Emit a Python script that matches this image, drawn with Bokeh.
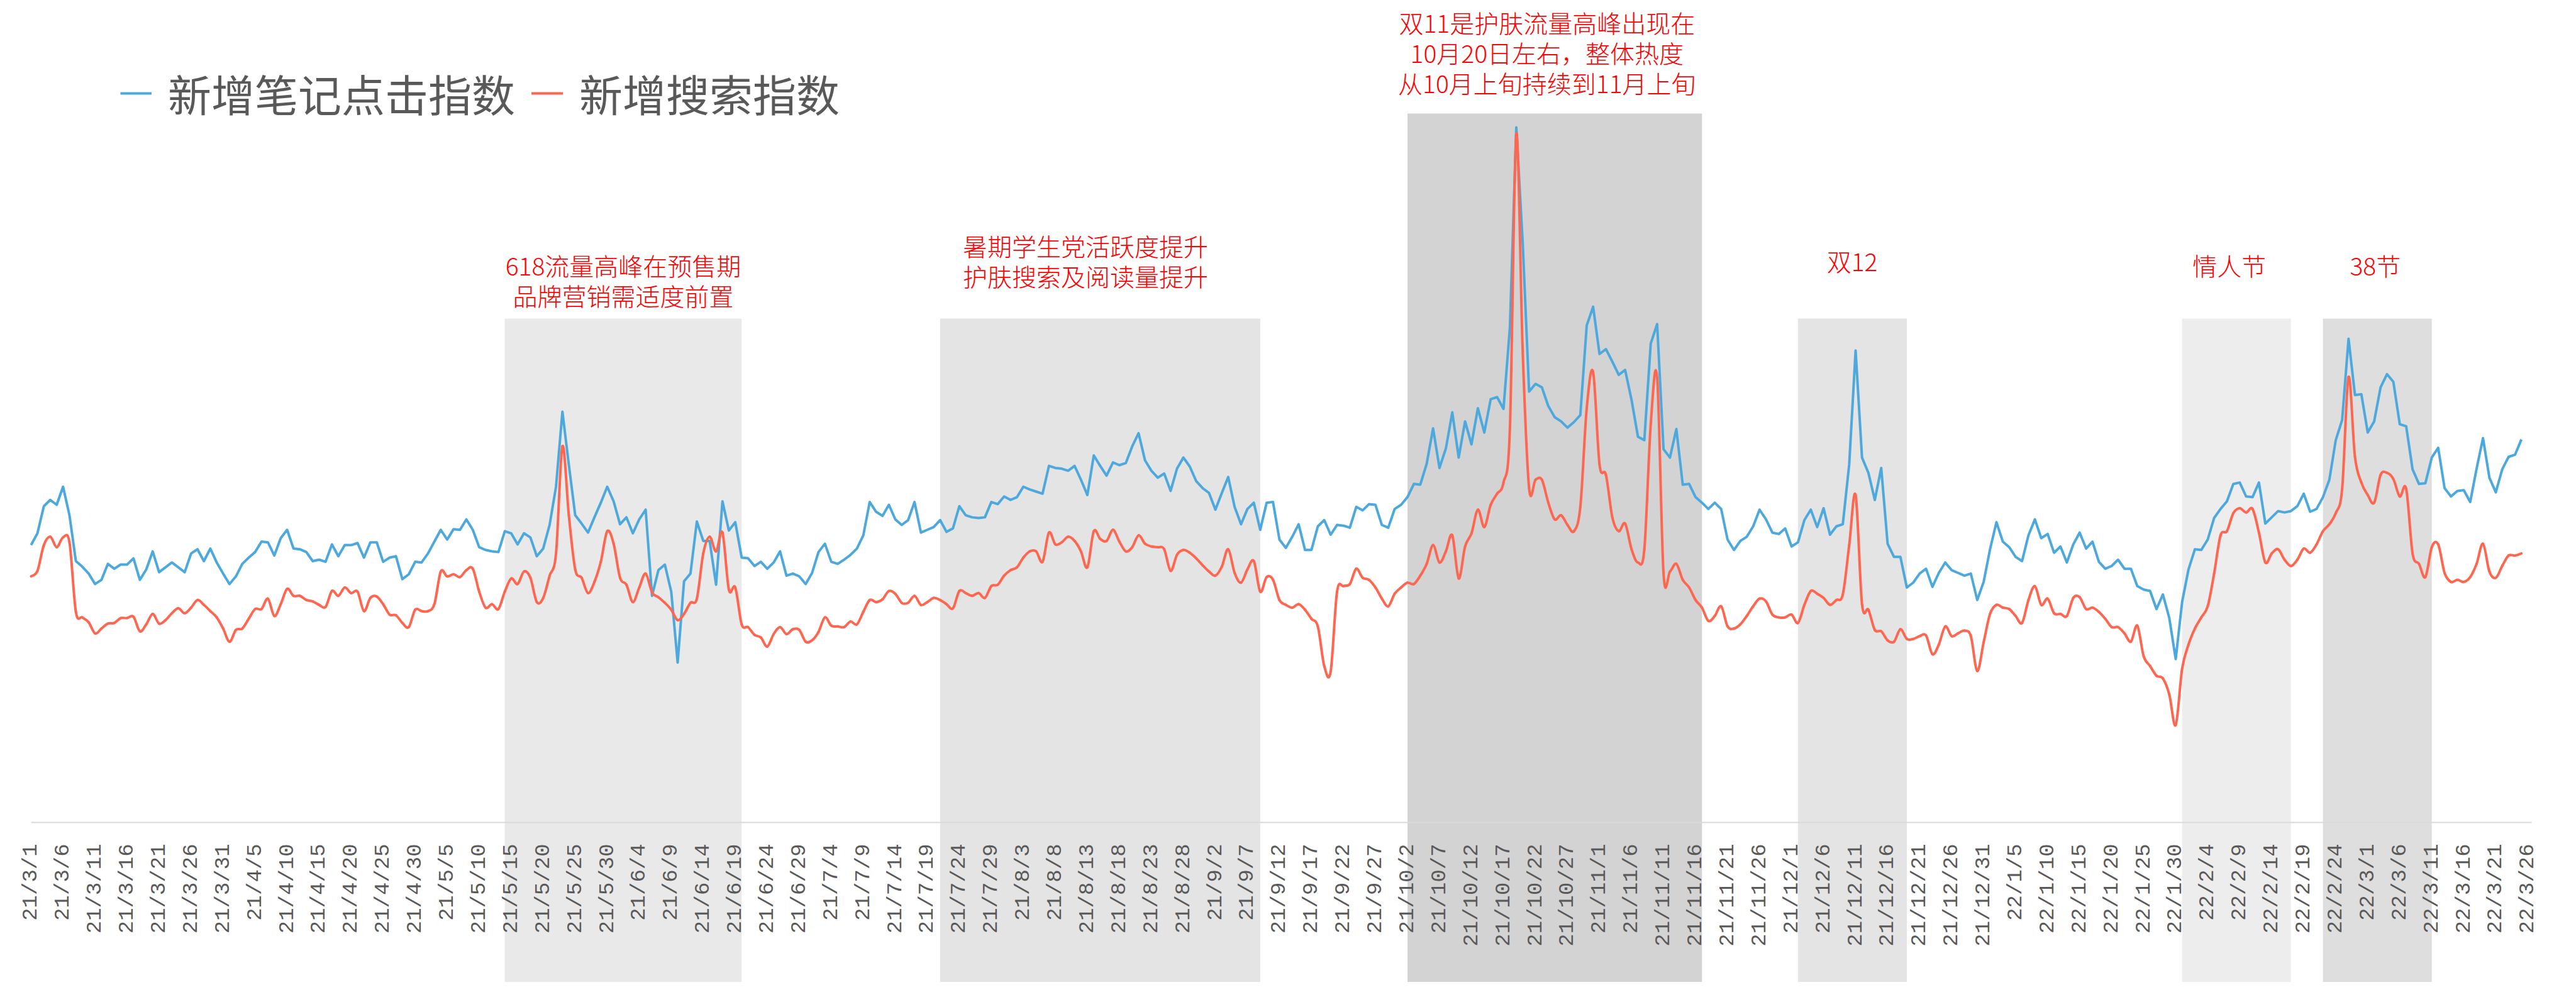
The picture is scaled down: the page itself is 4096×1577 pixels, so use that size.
import math
import numpy as np
import pandas as pd
from bokeh.plotting import figure
from bokeh.models import Range1d, FixedTicker, ColumnDataSource, Legend, LegendItem
from bokeh.core.properties import value
from bokeh.embed import file_html
from bokeh.resources import INLINE

# ---------------- data ----------------
start_date = "2021-03-01"
series_names = ["新增笔记点击指数", "新增搜索指数"]

note_click_index = [
    39.9, 41.6, 45.5, 46.4, 45.7, 48.3, 44.2, 37.6, 36.8, 35.8,
    34.3, 34.9, 37.2, 36.5, 37.1, 37.1, 38.0, 34.9, 36.4, 39.0,
    36.0, 36.7, 37.4, 36.7, 36.0, 38.7, 39.3, 37.6, 39.4, 37.4,
    35.8, 34.3, 35.4, 37.2, 38.1, 38.9, 40.4, 40.3, 38.4, 40.9,
    42.1, 39.4, 39.3, 38.9, 37.6, 37.8, 37.5, 40.0, 38.3, 39.9,
    39.9, 40.2, 38.1, 40.3, 40.3, 37.5, 38.1, 38.3, 35.0, 35.7,
    37.5, 37.4, 38.7, 40.4, 42.1, 40.7, 42.2, 42.1, 43.6, 42.1,
    39.6, 39.2, 39.0, 38.9, 41.9, 41.6, 40.0, 41.6, 41.0, 38.3,
    39.4, 42.8, 48.3, 59.1, 51.5, 44.2, 43.0, 41.7, 43.9, 46.0,
    48.3, 46.2, 42.9, 43.9, 41.6, 43.6, 45.0, 32.6, 36.3, 37.1,
    33.2, 23.0, 34.7, 35.8, 43.3, 40.5, 40.5, 34.2, 46.2, 42.0,
    43.2, 38.1, 38.0, 36.9, 37.5, 36.5, 37.4, 39.0, 35.5, 35.8,
    35.4, 34.3, 35.9, 38.9, 40.1, 37.5, 37.2, 37.8, 38.5, 39.4,
    41.3, 46.1, 44.7, 44.1, 45.7, 43.6, 42.8, 43.5, 46.1, 41.7,
    42.1, 42.5, 43.5, 41.8, 42.3, 45.5, 44.2, 43.9, 43.8, 43.9,
    46.1, 45.8, 46.9, 46.4, 46.8, 48.3, 47.9, 47.6, 47.3, 51.3,
    51.0, 50.9, 50.6, 51.3, 49.3, 47.1, 52.8, 51.3, 49.9, 51.8,
    51.4, 51.7, 54.1, 56.0, 52.1, 50.6, 49.6, 50.2, 47.7, 50.9,
    52.5, 51.2, 49.1, 48.1, 47.4, 45.0, 47.4, 49.7, 45.4, 42.9,
    45.1, 46.0, 42.1, 46.0, 46.1, 40.7, 39.5, 41.1, 42.9, 39.2,
    39.2, 42.6, 43.5, 41.4, 42.8, 42.7, 42.4, 45.4, 44.9, 45.8,
    45.7, 42.8, 42.4, 45.1, 45.7, 46.8, 48.7, 48.6, 51.6, 56.7,
    51.0, 53.8, 59.0, 52.5, 57.7, 54.4, 59.6, 56.1, 60.9, 61.2,
    59.5, 71.2, 100.0, 83.4, 62.0, 63.1, 62.6, 59.9, 58.3, 57.7,
    56.8, 57.6, 58.6, 71.5, 74.2, 67.4, 68.1, 66.3, 64.4, 65.1,
    60.8, 55.5, 55.0, 68.9, 71.7, 53.7, 52.5, 56.6, 48.6, 48.7,
    46.8, 46.0, 45.1, 46.0, 45.1, 40.7, 39.2, 40.5, 41.1, 42.6,
    45.0, 43.6, 41.7, 41.5, 42.3, 39.7, 40.3, 43.5, 45.0, 42.5,
    45.2, 41.4, 42.6, 42.9, 51.5, 67.9, 52.5, 50.3, 46.4, 51.0,
    40.1, 38.2, 38.2, 33.8, 34.5, 35.8, 36.5, 33.9, 35.9, 37.4,
    36.3, 35.9, 35.5, 35.8, 32.0, 34.6, 39.3, 43.2, 40.4, 39.6,
    38.2, 37.6, 41.3, 43.6, 40.9, 41.5, 38.8, 39.7, 37.4, 40.0,
    41.7, 39.4, 40.4, 37.5, 36.5, 36.9, 37.8, 36.5, 36.5, 34.0,
    33.5, 33.3, 30.7, 32.8, 29.4, 23.5, 31.7, 36.4, 39.3, 39.2,
    40.7, 43.8, 45.1, 46.2, 48.7, 48.9, 46.9, 46.8, 48.9, 43.0,
    43.9, 44.8, 44.6, 44.8, 45.5, 47.3, 44.7, 45.1, 46.8, 49.3,
    55.0, 57.9, 69.6, 61.5, 61.6, 56.1, 57.7, 62.6, 64.5, 63.4,
    57.3, 57.0, 50.8, 48.7, 48.8, 52.5, 53.9, 48.1, 46.9, 47.7,
    47.8, 46.1, 50.9, 55.3, 49.6, 47.5, 50.8, 52.6, 52.9, 55.1,
]

search_index = [
    35.4, 36.2, 39.9, 41.1, 39.6, 41.0, 40.3, 30.3, 29.5, 28.8,
    27.2, 27.9, 28.6, 28.7, 29.4, 29.4, 29.6, 27.5, 28.5, 30.0,
    28.6, 29.1, 30.1, 30.8, 30.1, 30.9, 32.0, 31.3, 30.4, 29.5,
    27.9, 26.0, 27.7, 27.9, 29.3, 30.7, 30.7, 32.2, 29.7, 31.4,
    33.6, 32.6, 32.6, 32.0, 31.8, 31.3, 31.0, 33.3, 32.6, 33.8,
    33.0, 33.2, 30.4, 32.3, 32.5, 31.4, 29.9, 29.8, 28.7, 28.1,
    30.6, 30.4, 30.4, 31.4, 36.1, 35.4, 35.7, 35.3, 36.3, 36.5,
    33.2, 30.9, 31.4, 30.7, 33.2, 35.1, 34.3, 36.1, 35.2, 31.7,
    32.3, 35.5, 38.7, 54.1, 44.2, 36.4, 35.2, 33.0, 34.6, 37.5,
    41.9, 40.1, 35.2, 34.2, 31.7, 33.8, 35.8, 33.1, 32.4, 31.6,
    30.6, 29.1, 30.0, 31.6, 32.2, 38.7, 41.1, 39.0, 41.7, 33.5,
    33.8, 28.5, 28.1, 27.0, 26.6, 25.3, 27.1, 28.1, 27.1, 27.8,
    27.7, 26.0, 26.2, 27.4, 29.5, 28.3, 28.2, 28.1, 28.9, 28.5,
    30.3, 32.0, 31.7, 32.1, 33.3, 32.9, 31.6, 31.6, 32.6, 31.3,
    31.7, 32.3, 32.0, 31.4, 30.8, 33.3, 33.0, 32.6, 33.0, 32.3,
    34.0, 34.2, 35.5, 36.3, 36.7, 38.1, 39.0, 39.0, 37.5, 41.7,
    40.0, 40.3, 41.1, 40.5, 39.0, 36.7, 41.9, 40.8, 40.5, 42.1,
    40.4, 39.0, 39.6, 41.3, 40.1, 39.7, 39.6, 39.3, 36.2, 38.5,
    39.2, 38.8, 38.0, 37.0, 36.1, 35.5, 36.8, 39.3, 35.9, 34.5,
    36.4, 37.6, 33.2, 35.3, 34.9, 32.0, 31.3, 30.9, 31.4, 30.6,
    29.3, 28.2, 22.5, 21.7, 33.2, 34.0, 34.3, 36.5, 35.2, 34.9,
    33.8, 32.2, 31.1, 32.9, 33.8, 34.5, 34.3, 35.5, 37.2, 39.9,
    37.4, 39.0, 41.3, 35.1, 39.7, 41.6, 45.0, 42.5, 45.7, 47.3,
    48.9, 56.7, 99.1, 67.7, 48.1, 49.3, 49.3, 46.0, 43.6, 44.2,
    42.8, 41.9, 45.4, 59.6, 64.8, 51.5, 50.0, 43.9, 41.9, 43.0,
    39.3, 37.4, 39.3, 57.3, 64.0, 35.8, 36.1, 37.2, 34.9, 33.8,
    32.0, 30.9, 29.0, 29.7, 31.1, 28.2, 27.9, 28.5, 29.7, 31.1,
    32.2, 31.8, 29.9, 29.5, 29.5, 29.9, 28.7, 31.3, 33.3, 32.9,
    32.3, 31.3, 32.0, 32.8, 39.9, 47.1, 31.4, 30.6, 27.7, 27.5,
    26.2, 26.0, 27.8, 26.4, 26.4, 26.8, 26.9, 24.2, 25.6, 28.2,
    26.8, 27.2, 27.6, 26.8, 21.8, 25.9, 30.0, 31.3, 30.9, 30.7,
    29.7, 28.7, 32.0, 34.0, 31.3, 32.2, 30.1, 30.0, 29.7, 32.3,
    32.4, 30.7, 30.9, 30.3, 29.3, 28.1, 28.1, 27.2, 26.0, 28.3,
    23.9, 22.5, 21.1, 20.7, 18.4, 14.0, 22.1, 25.6, 27.9, 29.5,
    31.1, 35.8, 41.3, 41.9, 44.5, 45.2, 44.6, 45.1, 41.7, 37.4,
    38.7, 39.3, 37.8, 36.9, 37.8, 39.4, 38.8, 40.0, 41.9, 42.9,
    44.5, 48.0, 64.1, 52.6, 48.9, 47.1, 46.0, 50.0, 50.3, 49.4,
    46.9, 48.0, 38.7, 37.2, 35.3, 39.6, 40.0, 35.9, 34.6, 34.9,
    34.6, 35.3, 37.2, 40.1, 36.1, 35.2, 36.9, 38.4, 38.4, 38.7,
]

# highlighted periods (start / end date) and the height of each shaded band
period_start = ["2021-05-14", "2021-07-21", "2021-10-02", "2021-12-02", "2022-01-31", "2022-02-22"]
period_end = ["2021-06-20", "2021-09-09", "2021-11-17", "2021-12-19", "2022-02-17", "2022-03-11"]
period_height = [72.5, 72.5, 102.0, 72.5, 72.5, 72.5]
period_notes = [
    ["618流量高峰在预售期", "品牌营销需适度前置"],
    ["暑期学生党活跃度提升", "护肤搜索及阅读量提升"],
    ["双11是护肤流量高峰出现在", "10月20日左右，整体热度", "从10月上旬持续到11月上旬"],
    ["双12"],
    ["情人节"],
    ["38节"],
]

axis_end_date = "2022-03-26"
t0 = pd.Timestamp(start_date)
tick_dates = pd.date_range(start_date, axis_end_date, freq="5D")
tick_labels = [f"{d.year % 100}/{d.month}/{d.day}" for d in tick_dates]

# ---------------- layout helpers (reference pixel -> data) ----------------
REF_W, REF_H = 4675.0, 1800.0
W, H = 4080, 1561


def X2d(X):
    return (X - 56.0) / 11.664


def Y2v(Y):
    return (1507.0 - Y) / 12.74


def day(s):
    return (pd.Timestamp(s) - t0).days


n = len(note_click_index)
xs = np.arange(n)

p = figure(width=W, height=H,
           x_range=Range1d(X2d(0), X2d(REF_W)),
           y_range=Range1d(Y2v(REF_H), Y2v(0)),
           output_backend="svg", toolbar_location=None,
           min_border=0, outline_line_color=None,
           background_fill_color="white", border_fill_color="white")
p.grid.visible = False
p.yaxis.visible = False

# shaded bands
band_colors = ["#E9E9E9", "#E4E4E4", "#D3D3D3", "#E4E4E4", "#EDEDED", "#DEDEDE"]
band_src = ColumnDataSource(dict(
    left=[day(s) for s in period_start],
    right=[day(e) for e in period_end],
    top=period_height,
    bottom=[Y2v(REF_H) - 5] * len(period_start),
    color=band_colors,
))
p.quad(left="left", right="right", top="top", bottom="bottom", color="color",
       line_color=None, source=band_src)

# blue line
blue_r = p.line(xs, note_click_index, line_color="#4DA8DD", line_width=4,
                line_join="round")

# red line, smoothed (Catmull-Rom converted to cubic bezier between the data points)
y = np.asarray(search_index, dtype=float)
x0, y0, x1, y1, cx0, cy0, cx1, cy1 = [], [], [], [], [], [], [], []
for i in range(n - 1):
    a = max(i - 1, 0)
    b = min(i + 2, n - 1)
    x0.append(xs[i]); y0.append(y[i]); x1.append(xs[i + 1]); y1.append(y[i + 1])
    cx0.append(xs[i] + (xs[i + 1] - xs[a]) / 6.0)
    cy0.append(y[i] + (y[i + 1] - y[a]) / 6.0)
    cx1.append(xs[i + 1] - (xs[b] - xs[i]) / 6.0)
    cy1.append(y[i + 1] - (y[b] - y[i]) / 6.0)
red_r = p.bezier(x0=x0, y0=y0, x1=x1, y1=y1, cx0=cx0, cy0=cy0, cx1=cx1, cy1=cy1,
                 line_color="#FF6650", line_width=4, line_cap="round")

# annotations
note_x_ref = [1135, 1977, 2818, 3374, 4061, 4327]
note_y_ref = [485, 449, 40, 477, 485, 485]
line_gap_ref = 55.0
tx, ty, tt = [], [], []
for lines, X, Y in zip(period_notes, note_x_ref, note_y_ref):
    for k, t in enumerate(lines):
        tx.append(X2d(X)); ty.append(Y2v(Y + k * line_gap_ref)); tt.append(t)
p.text(x=tx, y=ty, text=tt,
       text_font=value("'Noto Sans CJK SC Light', 'Noto Sans CJK SC'"),
       text_font_size="39px", text_color="#FF0000",
       text_align="center", text_baseline="middle")

# x axis drawn inside the frame at value 0
ticks = [day(d) for d in tick_dates]
p.xaxis.fixed_location = 0
p.xaxis.bounds = (0, X2d(4612))
p.xaxis.ticker = FixedTicker(ticks=ticks)
p.xaxis.major_label_overrides = {t: lab for t, lab in zip(ticks, tick_labels)}
p.xaxis.major_label_orientation = math.pi / 2
p.xaxis.major_label_standoff = 28
p.xaxis.major_tick_line_color = None
p.xaxis.minor_tick_line_color = None
p.xaxis.axis_line_color = "#D9D9D9"
p.xaxis.axis_line_width = 2
p.xaxis.major_label_text_font = "Liberation Mono"
p.xaxis.major_label_text_font_size = "34px"
p.xaxis.major_label_text_color = "#595959"

legend = Legend(items=[LegendItem(label=series_names[0], renderers=[blue_r]),
                       LegendItem(label=series_names[1], renderers=[red_r])],
                location=(191, 1363), orientation="horizontal",
                glyph_width=50, glyph_height=40, label_standoff=26, spacing=26,
                padding=0, margin=0, border_line_color=None,
                background_fill_alpha=0,
                label_text_font_size="69px", label_text_color="#595959",
                label_text_font="Noto Sans CJK SC")
p.add_layout(legend)

open("out.html", "w").write(file_html(p, INLINE))
